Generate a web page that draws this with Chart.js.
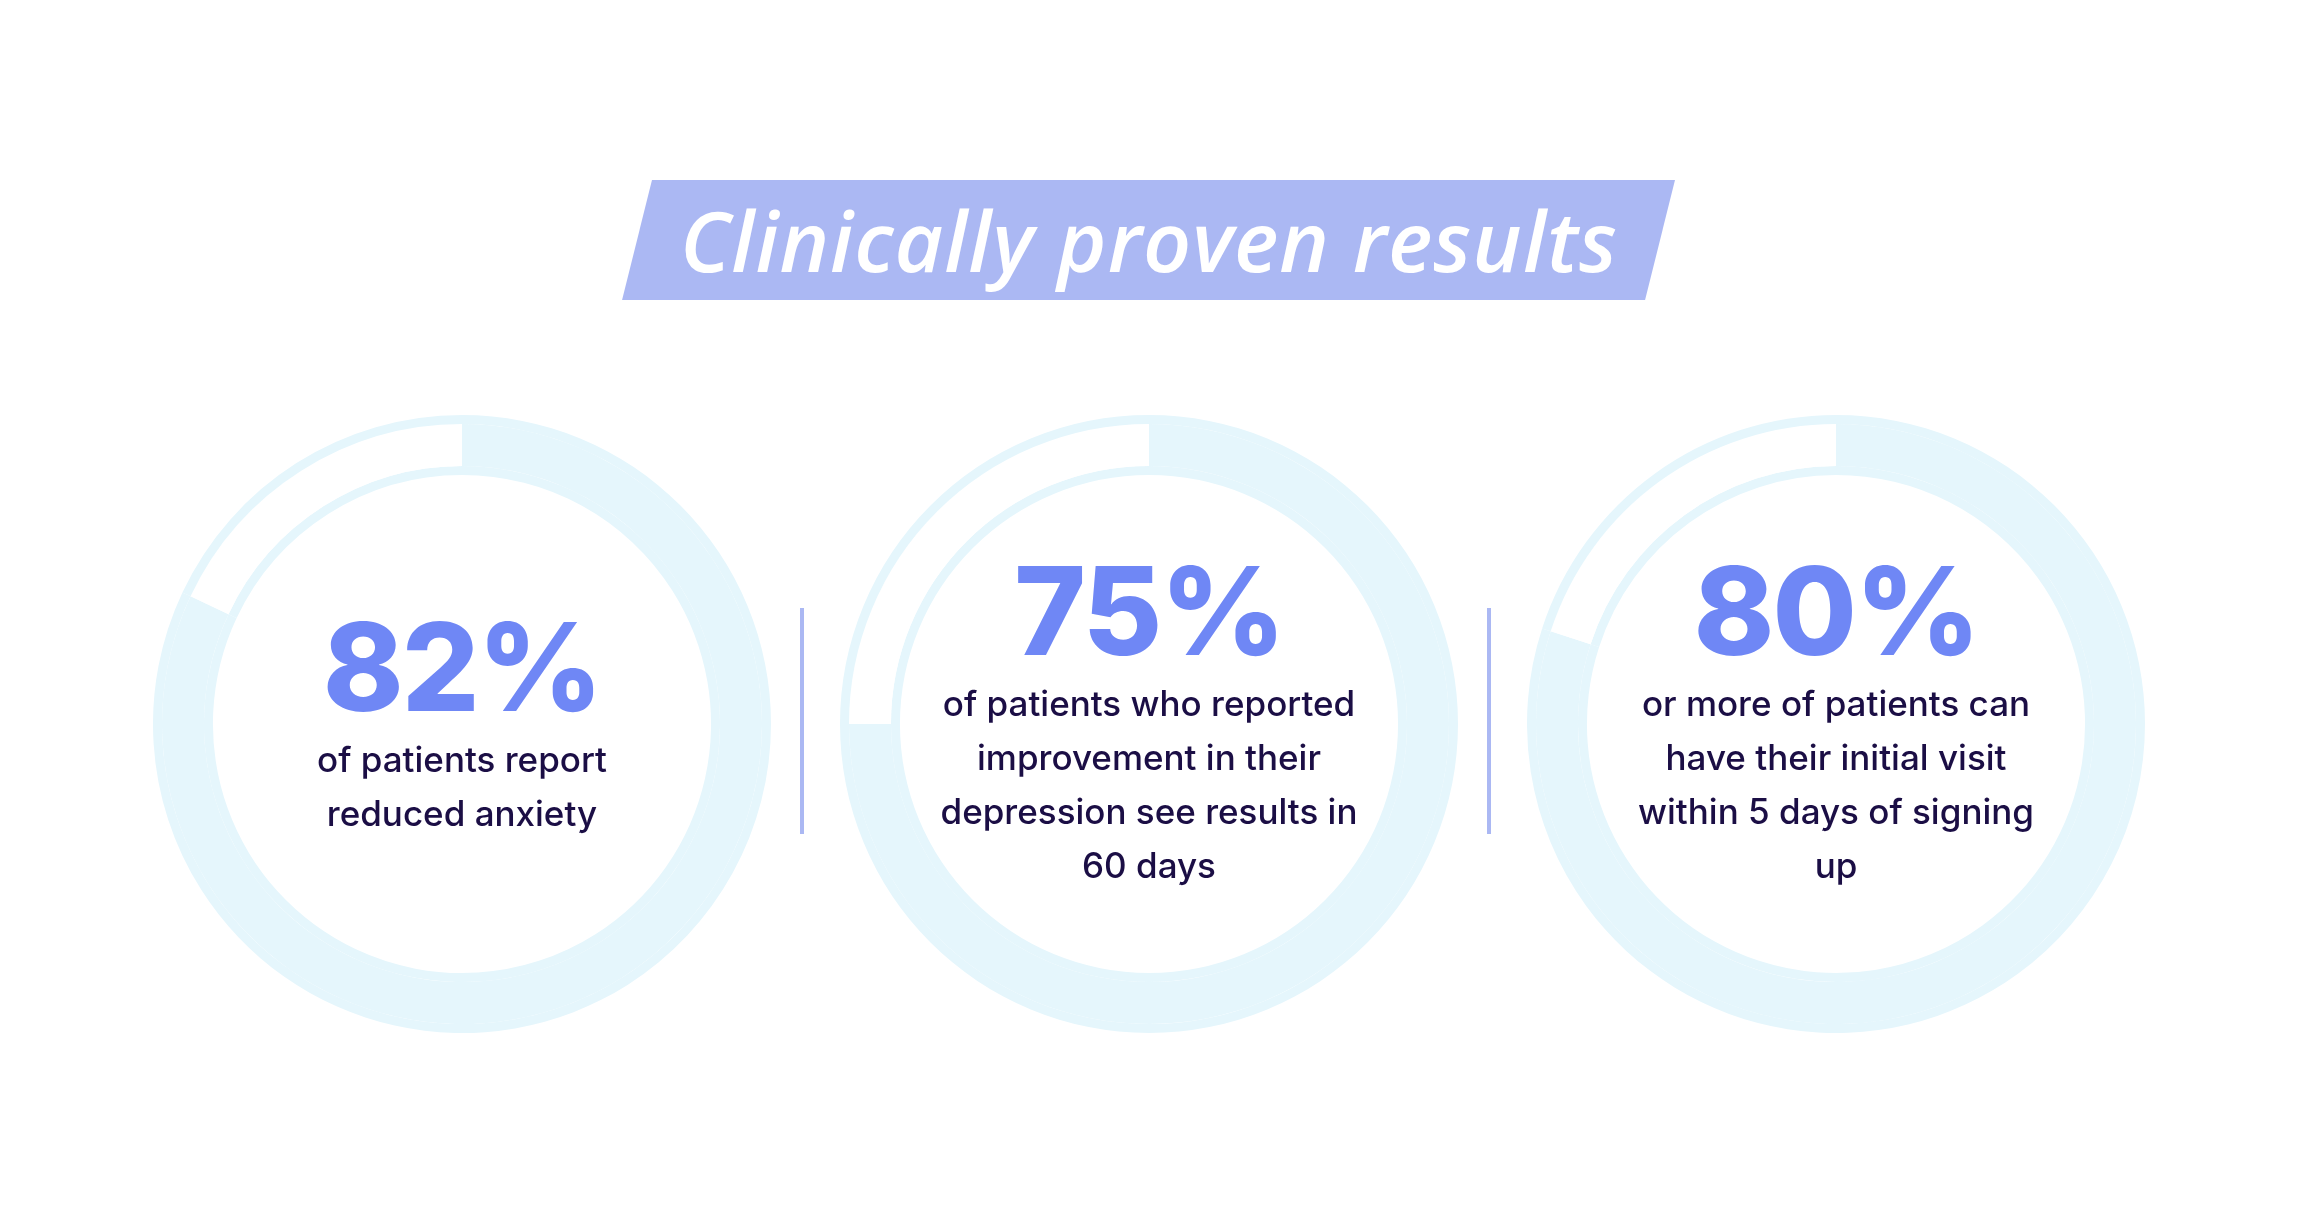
<!DOCTYPE html>
<html>
<head>
<meta charset="utf-8">
<script src="https://cdn.jsdelivr.net/npm/chart.js@4"></script>
<style>
  html, body { margin: 0; padding: 0; background: #fff; }
  body { width: 2298px; height: 1226px; position: relative; overflow: hidden; font-family: "Open Sans", Inter, sans-serif; }
  .banner { position: absolute; left: 652px; top: 180px; width: 1023px; height: 120px; background: #ABB8F3; transform: skewX(-14deg); transform-origin: 0 0; }
  .title { position: absolute; left: 623px; top: 180px; width: 1052px; height: 120px; line-height: 120px; text-align: center; color: #fff; font-style: italic; font-weight: 600; font-size: 84px; letter-spacing: 1px; }
  .ring { position: absolute; width: 618px; height: 618px; }
  .txt { position: absolute; width: 480px; text-align: center; color: #1B0E45; }
  .num { font-family: Inter, sans-serif; font-weight: 800; color: #6F87F5; font-size: 122px; line-height: 130px; letter-spacing: -2px; }
  .body { font-family: Inter, sans-serif; font-weight: 500; font-size: 35px; line-height: 54px; }
  .divider { position: absolute; top: 608px; width: 4px; height: 226px; background: #ABB8F3; }
</style>
</head>
<body>
<div class="banner"></div>
<div class="title">Clinically proven results</div>
<div class="divider" style="left:800px"></div>
<div class="divider" style="left:1487px"></div>

<script>
// valores mostrados em cada anel
const percents = [82, 75, 80];
const captions = [
  ['of patients report', 'reduced anxiety'],
  ['of patients who reported', 'improvement in their', 'depression see results in', '60 days'],
  ['or more of patients can', 'have their initial visit', 'within 5 days of signing', 'up']
];
const centersX = [462, 1149, 1836];
const centerY = 724;
const light = '#E5F6FC';

percents.forEach((p, i) => {
  const canvas = document.createElement('canvas');
  const wrap = document.createElement('div');
  wrap.className = 'ring';
  wrap.style.left = (centersX[i] - 309) + 'px';
  wrap.style.top = (centerY - 309) + 'px';
  wrap.appendChild(canvas);
  document.body.appendChild(wrap);

  const vals = [p, 100 - p];
  new Chart(canvas.getContext('2d'), {
    type: 'doughnut',
    data: {
      datasets: [
        { data: vals, backgroundColor: [light, light], borderWidth: 0, weight: 9 },
        { data: vals, backgroundColor: [light, '#ffffff'], borderWidth: 0, weight: 42 },
        { data: vals, backgroundColor: [light, light], borderWidth: 0, weight: 9 }
      ]
    },
    options: {
      responsive: true,
      maintainAspectRatio: false,
      animation: false,
      cutout: '80.6%',
      events: [],
      plugins: { legend: { display: false }, tooltip: { enabled: false } }
    }
  });

  // texto central
  const lines = captions[i];
  const block = document.createElement('div');
  block.className = 'txt';
  block.style.left = (centersX[i] - 240) + 'px';
  const numTop = lines.length > 2 ? 546 : 602;
  block.style.top = numTop + 'px';
  block.innerHTML = '<div class="num">' + p + '%</div><div class="body">' + lines.join('<br>') + '</div>';
  document.body.appendChild(block);
});
</script>
</body>
</html>
